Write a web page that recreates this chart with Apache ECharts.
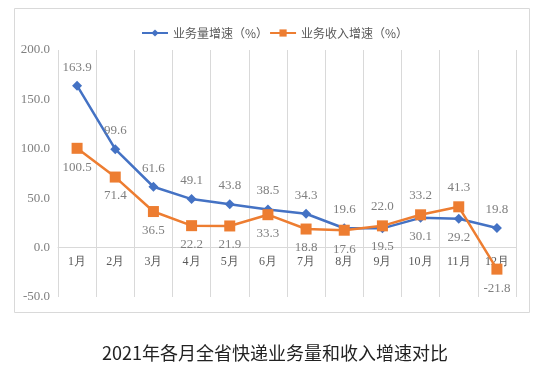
<!DOCTYPE html>
<html><head><meta charset="utf-8">
<script src="https://cdn.jsdelivr.net/npm/echarts@6/dist/echarts.min.js"></script>
<style>html,body{margin:0;padding:0;background:#fff}#c{width:550px;height:365px}</style>
</head><body><div id="c"></div>
<script>
const months = ['1月','2月','3月','4月','5月','6月','7月','8月','9月','10月','11月','12月'];
const volumeGrowth = [163.9, 99.6, 61.6, 49.1, 43.8, 38.5, 34.3, 19.6, 19.5, 30.1, 29.2, 19.8];
const revenueGrowth = [100.5, 71.4, 36.5, 22.2, 21.9, 33.3, 18.8, 17.6, 22.0, 33.2, 41.3, -21.8];
const volumeName = '业务量增速（%）';
const revenueName = '业务收入增速（%）';
const flipped = [8, 9, 10];

const chart = echarts.init(document.getElementById('c'));
const lblFont = {fontFamily: 'Liberation Serif', fontSize: 13, color: '#7f7f7f'};
function mk(vals, pos, alt) {
  return vals.map((v, i) => ({value: v, label: {position: flipped.includes(i) ? alt : pos}}));
}
chart.setOption({
  animation: false,
  graphic: [{type: 'rect', shape: {x: 14.5, y: 8.5, width: 515, height: 304}, style: {fill: 'none', stroke: '#d9d9d9', lineWidth: 1}}],
  title: {text: '2021年各月全省快递业务量和收入增速对比', left: 'center', top: 339,
    textStyle: {fontFamily: 'Noto Sans CJK SC', fontSize: 18, fontWeight: 'normal', color: '#222'}},
  legend: {left: 136, top: 22, itemWidth: 26, itemHeight: 9, itemGap: 1,
    textStyle: {fontFamily: 'Noto Sans CJK SC', fontSize: 12, color: '#595959'},
    data: [volumeName, revenueName]},
  grid: {left: 58, right: 34, top: 50, bottom: 68},
  xAxis: {type: 'category', data: months, boundaryGap: true, offset: -49.4,
    axisLine: {onZero: false, lineStyle: {color: '#d9d9d9'}},
    axisTick: {show: false},
    splitLine: {show: true, lineStyle: {color: '#d9d9d9'}},
    axisLabel: {fontFamily: 'Liberation Serif', fontSize: 12, color: '#595959', margin: 8}},
  yAxis: {type: 'value', min: -50, max: 200, interval: 50,
    axisLine: {show: false}, axisTick: {show: false}, splitLine: {show: false},
    axisLabel: {fontFamily: 'Liberation Serif', fontSize: 13, color: '#7f7f7f', margin: 8,
      formatter: v => v.toFixed(1)}},
  series: [
    {name: volumeName, type: 'line', data: mk(volumeGrowth, 'top', 'bottom'),
      symbol: 'diamond', symbolSize: 10, itemStyle: {color: '#4472C4'},
      lineStyle: {width: 2.5, color: '#4472C4'},
      label: {show: true, distance: 7, formatter: p => p.value.toFixed(1), ...lblFont}, z: 2},
    {name: revenueName, type: 'line', data: mk(revenueGrowth, 'bottom', 'top'),
      symbol: 'rect', symbolSize: 11, itemStyle: {color: '#ED7D31'},
      lineStyle: {width: 2.5, color: '#ED7D31'},
      label: {show: true, distance: 7, formatter: p => p.value.toFixed(1), ...lblFont}, z: 3}
  ]
});
</script></body></html>
